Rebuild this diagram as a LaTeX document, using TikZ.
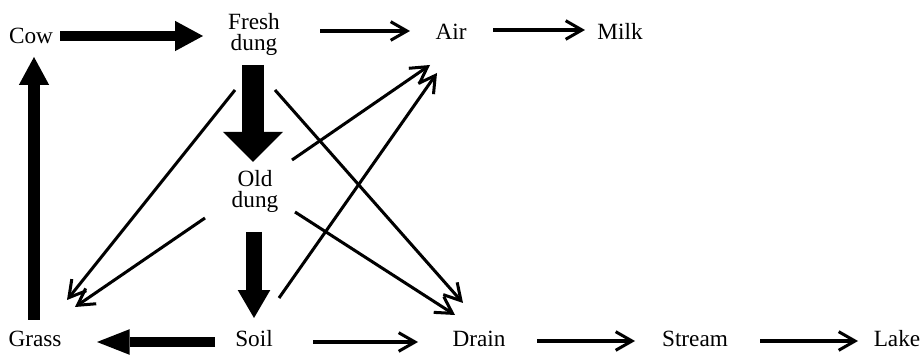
\documentclass[tikz,border=0pt]{standalone}
\usepackage{fontspec}
\setmainfont{Liberation Serif}
\usetikzlibrary{arrows.meta}

\begin{document}
\begin{tikzpicture}[x=0.43pt,y=-0.43pt,
    label/.style={inner sep=0pt,align=center,font=\fontsize{10}{9}\selectfont},
    flow/.style={line width=1.3pt,-{Straight Barb[length=7pt,width=8pt]}},
    bigflow/.style n args={3}{line width=#1,-{Triangle[length=#2,width=#3,line width=0pt]}}]
  \useasboundingbox (0,0) rectangle (921,357);

  % compartments
  \node[label] (cow)    at (31,36)   {Cow};
  \node[label] (fresh)  at (254,34)  {Fresh\\dung};
  \node[label] (air)    at (451,32)  {Air};
  \node[label] (milk)   at (620,31)  {Milk};
  \node[label] (old)    at (255,191) {Old\\dung};
  \node[label] (grass)  at (35,339)  {Grass};
  \node[label] (soil)   at (254,339) {Soil};
  \node[label] (drain)  at (479,339) {Drain};
  \node[label] (stream) at (695,339) {Stream};
  \node[label] (lake)   at (897,339) {Lake};

  % main pathway
  \draw[bigflow={3.9pt}{12pt}{13pt}] ([shift={(29,0)}]cow.center) -- ([shift={(-51,2)}]fresh.center);
  \draw[bigflow={9.5pt}{13pt}{26pt}] ([shift={(-1,31)}]fresh.center) -- ([shift={(-2,-29)}]old.center);
  \draw[bigflow={6.5pt}{12pt}{14pt}] ([shift={(-1,41)}]old.center) -- ([shift={(0,-21)}]soil.center);
  \draw[bigflow={4.3pt}{14pt}{11pt}] ([shift={(-39,3)}]soil.center) -- ([shift={(62,3)}]grass.center);
  \draw[bigflow={5.2pt}{12pt}{13pt}] ([shift={(-1,-19)}]grass.center) -- ([shift={(3,21)}]cow.center);

  % minor pathways
  \draw[flow] ([shift={(66,-3)}]fresh.center) -- ([shift={(-41,-1)}]air.center);
  \draw[flow] ([shift={(42,-2)}]air.center) -- ([shift={(-35,-1)}]milk.center);
  \draw[flow] ([shift={(59,3)}]soil.center) -- ([shift={(-61,3)}]drain.center);
  \draw[flow] ([shift={(58,2)}]drain.center) -- ([shift={(-60,2)}]stream.center);
  \draw[flow] ([shift={(65,2)}]stream.center) -- ([shift={(-39,2)}]lake.center);

  \draw[flow] ([shift={(-19,56)}]fresh.center) -- ([shift={(32,-39)}]grass.center);
  \draw[flow] ([shift={(-50,27)}]old.center) -- ([shift={(40,-32)}]grass.center);
  \draw[flow] ([shift={(21,56)}]fresh.center) -- ([shift={(-16,-36)}]drain.center);
  \draw[flow] ([shift={(40,21)}]old.center) -- ([shift={(-24,-24)}]drain.center);
  \draw[flow] ([shift={(37,-31)}]old.center) -- ([shift={(-21,33)}]air.center);
  \draw[flow] ([shift={(25,-41)}]soil.center) -- ([shift={(-14,41)}]air.center);
\end{tikzpicture}
\end{document}
